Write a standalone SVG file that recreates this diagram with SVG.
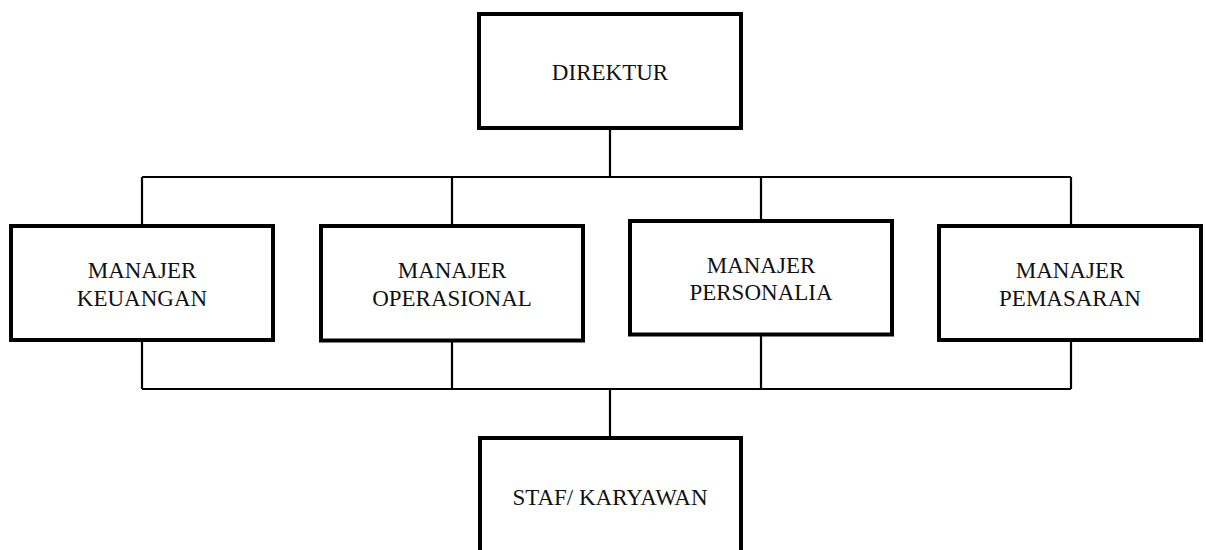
<svg xmlns="http://www.w3.org/2000/svg" width="1206" height="550" viewBox="0 0 1206 550">
<style>
.box{fill:#fff;stroke:#000;stroke-width:4}
.ln{fill:none;stroke:#000;stroke-width:2.2}
.t{font-family:"Liberation Serif","Times New Roman",serif;font-size:23px;fill:#111;text-anchor:middle}
</style>
<rect width="1206" height="550" fill="#fff"/>
<g id="connectors">
<path class="ln" d="M610 128V177M142 177H1071M142 177V226M452 177V226M761 177V221M1071 177V226"/>
<path class="ln" d="M142 340V389M452 340V389M761 334V389M1071 340V389M142 389H1071M610 389V438"/>
</g>
<g id="direktur"><rect class="box" x="479" y="14" width="262" height="114"/><text class="t" x="610" y="80">DIREKTUR</text></g>
<g id="keuangan"><rect class="box" x="11" y="226" width="262" height="114"/><text class="t" x="142" y="278">MANAJER</text><text class="t" x="142" y="305.5">KEUANGAN</text></g>
<g id="operasional"><rect class="box" x="321" y="226" width="262" height="114.5"/><text class="t" x="452" y="278">MANAJER</text><text class="t" x="452" y="305.5">OPERASIONAL</text></g>
<g id="personalia"><rect class="box" x="630" y="221" width="262" height="113.5"/><text class="t" x="761" y="273">MANAJER</text><text class="t" x="761" y="300">PERSONALIA</text></g>
<g id="pemasaran"><rect class="box" x="939" y="226" width="262" height="114"/><text class="t" x="1070" y="278">MANAJER</text><text class="t" x="1070" y="305.5">PEMASARAN</text></g>
<g id="staf"><rect class="box" x="480" y="438" width="261" height="120"/><text class="t" x="610" y="505">STAF/ KARYAWAN</text></g>
</svg>
